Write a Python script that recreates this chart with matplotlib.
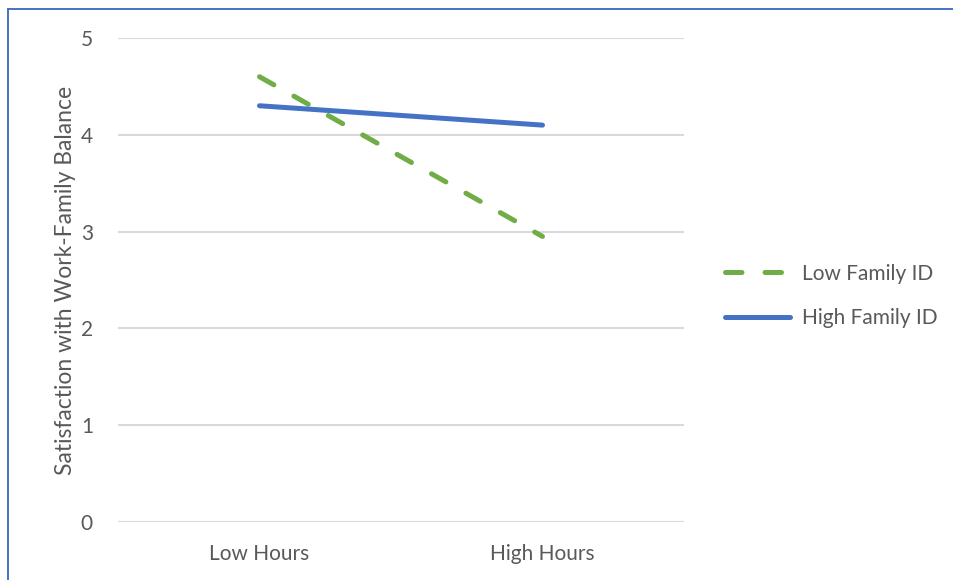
import matplotlib
matplotlib.use("Agg")
import matplotlib.pyplot as plt
from matplotlib.patches import Rectangle

categories = ["Low Hours", "High Hours"]
low_family_id = [4.6, 2.95]
high_family_id = [4.3, 4.1]
y_ticks = [0, 1, 2, 3, 4, 5]

text_color = "#595959"
grid_color = "#d9d9d9"
green = "#70AD47"
blue = "#4472C4"
font = ["Lato", "DejaVu Sans"]

fig = plt.figure(figsize=(9.54, 5.8), dpi=100)
W, H = 954, 580
ax = fig.add_axes([118 / W, 1 - 522 / H, (684 - 118) / W, (522 - 38) / H])

x = list(range(len(categories)))
ax.plot(x, low_family_id, color=green, lw=3.6, dashes=(3.3, 4.6),
        solid_capstyle="round", dash_capstyle="round", label="Low Family ID", zorder=3)
ax.plot(x, high_family_id, color=blue, lw=3.6, solid_capstyle="round",
        label="High Family ID", zorder=3)

ax.set_xlim(-0.5, len(categories) - 0.5)
ax.set_ylim(0, 5)
ax.set_yticks(y_ticks)
ax.set_yticklabels([str(t) for t in y_ticks], fontsize=15, color=text_color, family=font)
ax.set_xticks(x)
ax.set_xticklabels(categories, fontsize=15, color=text_color, family=font)
ax.tick_params(axis="both", length=0)
ax.tick_params(axis="y", pad=18)
ax.tick_params(axis="x", pad=16)
ax.yaxis.grid(True, color=grid_color, lw=1.5)
ax.set_axisbelow(True)
for s in ax.spines.values():
    s.set_visible(False)

ax.set_ylabel("Satisfaction with Work-Family Balance", fontsize=16.5,
              color=text_color, family=font)
ax.yaxis.set_label_coords(76 / W, 1 - 280 / H, transform=fig.transFigure)

leg = ax.legend(loc="center left", bbox_to_anchor=(725 / W, 1 - 296 / H),
                bbox_transform=fig.transFigure, frameon=False,
                prop={"family": font, "size": 15}, handlelength=3.1,
                handletextpad=0.6, labelspacing=1.2, borderpad=0,
                borderaxespad=0)
for t in leg.get_texts():
    t.set_color(text_color)

fig.patches.append(Rectangle((8.5 / W, -0.2), 1.2, 1.2 - 8.5 / H,
                             transform=fig.transFigure, fill=False,
                             edgecolor="#4472C4", lw=1.4))

fig.savefig("out.png", dpi=100)
